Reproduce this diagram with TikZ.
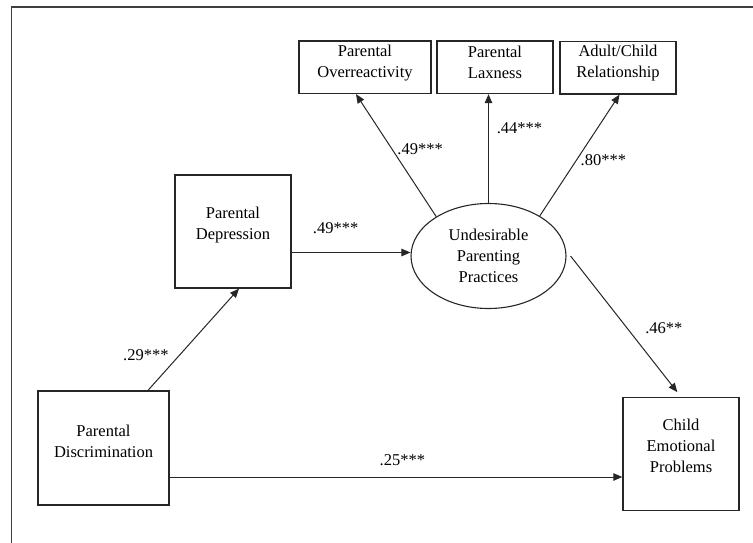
\documentclass[tikz,border=0pt]{standalone}
\usepackage{fontspec}
\setmainfont{Liberation Serif}
\usetikzlibrary{arrows.meta}
\usetikzlibrary{shapes.geometric}
\tikzset{
    every node/.append style={font=\fontsize{16.5}{21}\selectfont},
    box/.style={draw=black!85, line width=1.3pt, inner sep=0pt},
    txt/.style={align=center, inner sep=0pt},
    latent/.style={draw=black!85, line width=1.1pt, ellipse, align=center,
        inner sep=0pt, minimum width=155pt, minimum height=105pt},
    arrow/.style={draw=black!85, line width=1pt, -{Triangle[length=9pt,width=7.5pt]}},
    coef/.style={inner sep=0pt},
}

\begin{document}
\begin{tikzpicture}[x=1pt,y=-1pt]
  \useasboundingbox (0,0) rectangle (753,543);
  % frame
  \draw[black!75, line width=1.3pt] (11.7,543) |- (753,7);

  % indicators
  \node[box, minimum width=132pt, minimum height=52.6pt] (over) at (365,67.2) {};
  \node[box, minimum width=116pt, minimum height=52.6pt] (lax) at (495,67.2) {};
  \node[box, minimum width=116pt, minimum height=52.6pt] (adult) at (618,67.7) {};
  \node[txt] (overtxt) at ([yshift=4.5pt]over) {Parental\\Overreactivity};
  \node[txt] (laxtxt) at ([yshift=4.5pt]lax) {Parental\\Laxness};
  \node[txt] (adulttxt) at ([yshift=4.5pt]adult) {Adult/Child\\Relationship};

  % latent variable
  \node[latent] (upp) at (488.5,256) {Undesirable\\Parenting\\Practices};

  % other variables
  \node[box, minimum width=116pt, minimum height=113pt] (depr) at (233,231.5) {};
  \node[box, minimum width=131pt, minimum height=114pt] (discr) at (103.5,448) {};
  \node[box, minimum width=116pt, minimum height=113pt] (child) at (681,454) {};
  \node[txt] (deprtxt) at ([yshift=6.5pt]depr) {Parental\\Depression};
  \node[txt] (discrtxt) at ([yshift=6.5pt]discr) {Parental\\Discrimination};
  \node[txt] (childtxt) at ([yshift=8pt]child) {Child\\Emotional\\Problems};

  % paths
  \draw[arrow] ([xshift=44.5pt]discr.north) -- node[coef, pos=0.35, xshift=-34pt] {.29***} ([xshift=6pt]depr.south);
  \draw[arrow] ([yshift=-21pt]depr.east) coordinate (d1) -- node[coef, pos=0.37, yshift=24pt] {.49***} (d1 -| upp.west);
  \draw[arrow] (upp.143) -- node[coef, pos=0.55, xshift=28pt] {.49***} ([xshift=-9pt]over.south);
  \draw[arrow] (upp.north) -- node[coef, pos=0.69, xshift=31pt] {.44***} (upp.north |- lax.south);
  \draw[arrow] (upp.38) -- node[coef, pos=0.46, xshift=27pt] {.80***} ([xshift=1.5pt]adult.south);
  \draw[arrow, shorten >=6pt] ([xshift=4pt]upp.east) -- node[coef, pos=0.51, xshift=37pt] {.46**} (child.north);
  \draw[arrow] ([yshift=-29pt]discr.east) coordinate (d2) -- node[coef, pos=0.514, yshift=16.5pt] {.25***} (d2 -| child.west);
\end{tikzpicture}
\end{document}
